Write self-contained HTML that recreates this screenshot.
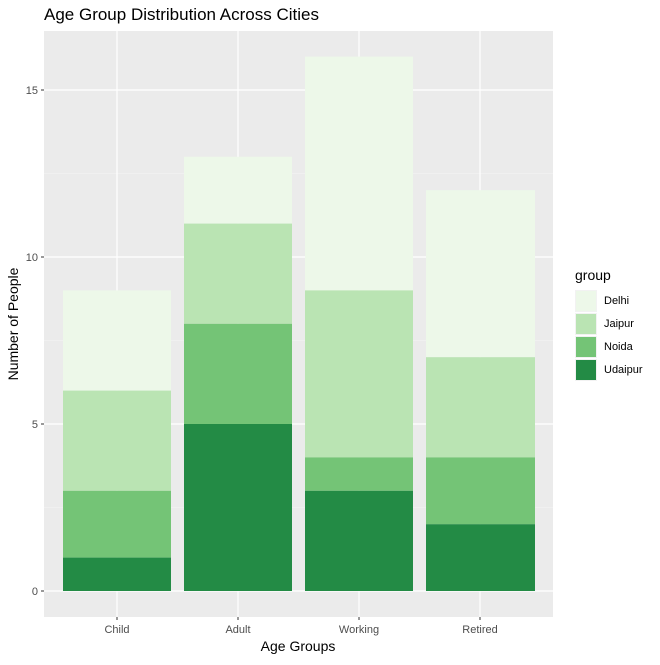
<!DOCTYPE html>
<html><head><style>body{margin:0;background:#fff}</style></head><body>
<svg width="660" height="660" xmlns="http://www.w3.org/2000/svg" font-family="Liberation Sans, sans-serif">
<rect width="660" height="660" fill="#fff"/>
<rect x="44" y="31" width="509" height="586" fill="#ebebeb"/>
<g stroke="#f5f5f5" stroke-width="0.6">
<line x1="44" x2="553" y1="507.5" y2="507.5"/><line x1="44" x2="553" y1="340.5" y2="340.5"/><line x1="44" x2="553" y1="173.5" y2="173.5"/>
</g>
<g stroke="#fff" stroke-width="1.2">
<line x1="44" x2="553" y1="591" y2="591"/><line x1="44" x2="553" y1="424" y2="424"/><line x1="44" x2="553" y1="257" y2="257"/><line x1="44" x2="553" y1="90" y2="90"/>
<line x1="117" x2="117" y1="31" y2="617"/><line x1="238" x2="238" y1="31" y2="617"/><line x1="359" x2="359" y1="31" y2="617"/><line x1="480" x2="480" y1="31" y2="617"/>
</g>
<rect x="63" y="290.4" width="108" height="100.2" fill="#edf8e9"/>
<rect x="63" y="390.6" width="108" height="100.2" fill="#bae4b3"/>
<rect x="63" y="490.8" width="108" height="66.8" fill="#74c476"/>
<rect x="63" y="557.6" width="108" height="33.4" fill="#238b45"/>
<rect x="184" y="156.8" width="108" height="66.8" fill="#edf8e9"/>
<rect x="184" y="223.6" width="108" height="100.2" fill="#bae4b3"/>
<rect x="184" y="323.8" width="108" height="100.2" fill="#74c476"/>
<rect x="184" y="424" width="108" height="167" fill="#238b45"/>
<rect x="305" y="56.6" width="108" height="233.8" fill="#edf8e9"/>
<rect x="305" y="290.4" width="108" height="167" fill="#bae4b3"/>
<rect x="305" y="457.4" width="108" height="33.4" fill="#74c476"/>
<rect x="305" y="490.8" width="108" height="100.2" fill="#238b45"/>
<rect x="426" y="190.2" width="109" height="167" fill="#edf8e9"/>
<rect x="426" y="357.2" width="109" height="100.2" fill="#bae4b3"/>
<rect x="426" y="457.4" width="109" height="66.8" fill="#74c476"/>
<rect x="426" y="524.2" width="109" height="66.8" fill="#238b45"/>
<g stroke="#333" stroke-width="1">
<line x1="41" x2="44" y1="591" y2="591"/><line x1="41" x2="44" y1="424" y2="424"/><line x1="41" x2="44" y1="257" y2="257"/><line x1="41" x2="44" y1="90" y2="90"/>
<line x1="117" x2="117" y1="617" y2="620"/><line x1="238" x2="238" y1="617" y2="620"/><line x1="359" x2="359" y1="617" y2="620"/><line x1="480" x2="480" y1="617" y2="620"/>
</g>
<g font-size="11" fill="#4d4d4d" text-anchor="end">
<text x="38" y="595">0</text><text x="38" y="428">5</text><text x="38" y="261">10</text><text x="38" y="94">15</text>
</g>
<g font-size="11" fill="#4d4d4d" text-anchor="middle">
<text x="117" y="633">Child</text><text x="238" y="633">Adult</text><text x="359" y="633">Working</text><text x="480" y="633">Retired</text>
</g>
<text x="298" y="651" font-size="14" text-anchor="middle">Age Groups</text>
<text transform="translate(18,324) rotate(-90)" font-size="14" text-anchor="middle">Number of People</text>
<text x="44" y="20" font-size="17">Age Group Distribution Across Cities</text>
<text x="575" y="280" font-size="14">group</text>
<rect x="575" y="290" width="22" height="22" fill="#f2f2f2"/><rect x="576" y="291" width="20" height="20" fill="#edf8e9"/>
<rect x="575" y="313" width="22" height="22" fill="#f2f2f2"/><rect x="576" y="314" width="20" height="20" fill="#bae4b3"/>
<rect x="575" y="336" width="22" height="22" fill="#f2f2f2"/><rect x="576" y="337" width="20" height="20" fill="#74c476"/>
<rect x="575" y="359" width="22" height="22" fill="#f2f2f2"/><rect x="576" y="360" width="20" height="20" fill="#238b45"/>
<g font-size="11" fill="#000">
<text x="604" y="304">Delhi</text><text x="604" y="327">Jaipur</text><text x="604" y="350">Noida</text><text x="604" y="373">Udaipur</text>
</g>
</svg>
</body></html>
